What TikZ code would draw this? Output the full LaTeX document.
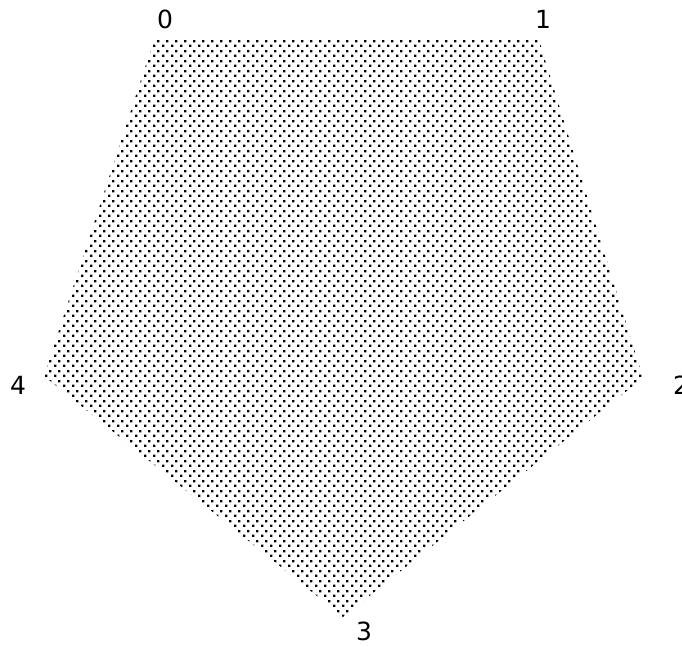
\documentclass[tikz,border=0pt]{standalone}
\usepackage{fontspec}
\setmainfont{DejaVu Sans}
\usetikzlibrary{patterns}
\pgfdeclarepatternformonly{pentadots}{\pgfqpoint{0pt}{0pt}}{\pgfqpoint{9pt}{10pt}}{\pgfqpoint{9pt}{10pt}}{%
  \pgfpathrectangle{\pgfqpoint{0pt}{0pt}}{\pgfqpoint{2.6pt}{2.6pt}}%
  \pgfpathrectangle{\pgfqpoint{4.5pt}{5pt}}{\pgfqpoint{2.6pt}{2.6pt}}%
  \pgfusepath{fill}}
\tikzset{
  vlabel/.style={font=\fontsize{25}{28}\selectfont, inner sep=0pt, text=black},
  pentafill/.style={pattern=pentadots, pattern color=black, draw=none}
}
\begin{document}
\begin{tikzpicture}[x=1pt,y=-1pt]
\useasboundingbox[fill=white] (0,0) rectangle (682,646);
\coordinate (v0) at (155,37);
\coordinate (v1) at (538,37);
\coordinate (v2) at (643,378);
\coordinate (v3) at (343,617);
\coordinate (v4) at (44,376);
\fill[pentafill] (v0) -- (v1) -- (v2) -- (v3) -- (v4) -- cycle;
\node[vlabel] (l0) at (165,19) {0};
\node[vlabel] (l1) at (543,19) {1};
\node[vlabel] (l2) at (681,385) {2};
\node[vlabel] (l3) at (364,631) {3};
\node[vlabel] (l4) at (18,385) {4};
\end{tikzpicture}
\end{document}
